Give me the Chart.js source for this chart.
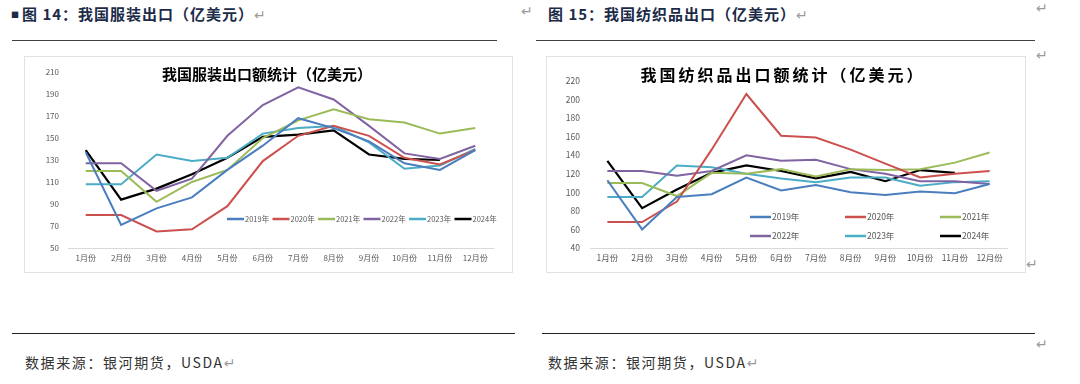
<!DOCTYPE html>
<html>
<head>
<meta charset="utf-8">
<script src="https://cdn.jsdelivr.net/npm/chart.js@4/dist/chart.umd.min.js"></script>
<style>
  body { margin: 0; background: #fff; }
  #page { position: relative; width: 1080px; height: 384px; overflow: hidden; font-family: "Noto Sans CJK SC", sans-serif; }
  .abs { position: absolute; white-space: nowrap; }
  .head { font-size: 15px; font-weight: bold; color: #1c2b48; letter-spacing: 1px; }
  .foot { font-size: 14px; color: #333; letter-spacing: 1.6px; }
  .mark { color: #9a9a9a; font-family: "DejaVu Sans", sans-serif; font-size: 14px; font-weight: normal; letter-spacing: 0; }
  .rule { position: absolute; height: 1px; background: #404040; }
  .box { position: absolute; border: 1px solid #e2e2e2; }
  .title { position: absolute; white-space: nowrap; font-weight: bold; color: #000; transform: translateX(-50%); }
</style>
</head>
<body>
<div id="page">
  <div class="abs head" style="left:11px;top:3px;"><span style="font-size:8px;vertical-align:2px;margin-right:2px;">■</span>图 14：我国服装出口（亿美元）<span class="mark">↵</span></div>
  <div class="abs mark" style="left:521px;top:3px;">↵</div>
  <div class="abs head" style="left:548px;top:3px;">图 15：我国纺织品出口（亿美元）<span class="mark">↵</span></div>
  <div class="abs mark" style="left:1036px;top:0px;">↵</div>
  <div class="abs mark" style="left:1036px;top:47px;">↵</div>
  <div class="abs mark" style="left:1026px;top:256px;">↵</div>
  <div class="abs mark" style="left:1036px;top:336px;">↵</div>

  <div class="rule" style="left:12px;top:40px;width:485px;"></div>
  <div class="rule" style="left:536px;top:40px;width:499px;"></div>

  <div class="box" style="left:24px;top:56px;width:487px;height:215px;"><canvas id="c1" width="487" height="215"></canvas></div>
  <div class="box" style="left:546px;top:56px;width:478px;height:215px;"><canvas id="c2" width="478" height="215"></canvas></div>
  <div class="title" style="left:267px;top:63px;font-size:15px;">我国服装出口额统计（亿美元）</div>
  <div class="title" style="left:783px;top:62px;font-size:16px;letter-spacing:3px;">我国纺织品出口额统计（亿美元）</div>

  <div class="rule" style="left:12px;top:333px;width:503px;background:#222;"></div>
  <div class="rule" style="left:542px;top:333px;width:493px;background:#222;"></div>
  <div class="abs foot" style="left:25px;top:352px;">数据来源：银河期货，USDA<span class="mark">↵</span></div>
  <div class="abs foot" style="left:548px;top:352px;">数据来源：银河期货，USDA<span class="mark">↵</span></div>
</div>
<script>
const months = ['1月份','2月份','3月份','4月份','5月份','6月份','7月份','8月份','9月份','10月份','11月份','12月份'];
const years = ['2019年','2020年','2021年','2022年','2023年','2024年'];
const colors = ['#4a7ebf','#cc504d','#9bbb59','#8064a2','#4bacc6','#000000'];

// 服装出口
const apparel2019 = [137, 71, 86, 96, 121, 143, 168, 159, 147, 127, 121, 139];
const apparel2020 = [80, 80, 65, 67, 88, 129, 152, 161, 152, 132, 126, 139];
const apparel2021 = [120, 120, 92, 110, 121, 150, 166, 176, 167, 164, 154, 159];
const apparel2022 = [127, 127, 102, 113, 152, 180, 196, 185, 161, 136, 131, 143];
const apparel2023 = [108, 108, 135, 129, 132, 154, 159, 161, 146, 122, 125, 140];
const apparel2024 = [139, 94, 104, 117, 132, 151, 153, 157, 135, 131, 130];

// 纺织品出口
const textile2019 = [113, 60, 95, 98, 116, 102, 108, 100, 97, 101, 99, 109];
const textile2020 = [68, 68, 90, 146, 206, 161, 159, 146, 131, 116, 120, 123];
const textile2021 = [110, 110, 96, 121, 120, 125, 117, 125, 124, 125, 132, 143];
const textile2022 = [123, 123, 118, 123, 140, 134, 135, 125, 120, 112, 112, 109];
const textile2023 = [95, 95, 129, 127, 120, 115, 111, 116, 116, 107, 111, 112];
const textile2024 = [134, 83, 103, 121, 129, 123, 115, 122, 112, 124, 121];

const apparelTicks = { min: 50, max: 210, step: 20 };
const textileTicks = { min: 40, max: 220, step: 20 };

// legend drawn inside the plot area
const legendInside = {
  id: 'legendInside',
  afterDatasetsDraw(chart, args, opts) {
    const ctx = chart.ctx;
    const area = chart.chartArea;
    ctx.save();
    ctx.font = opts.font;
    ctx.textBaseline = 'middle';
    ctx.textAlign = 'left';
    chart.data.datasets.forEach((ds, i) => {
      const col = i % opts.cols, row = Math.floor(i / opts.cols);
      const x = area.left + opts.x + col * opts.dx;
      const y = area.top + opts.y + row * opts.dy;
      ctx.strokeStyle = ds.borderColor;
      ctx.lineWidth = 2.5;
      ctx.beginPath();
      ctx.moveTo(x, y);
      ctx.lineTo(x + opts.len, y);
      ctx.stroke();
      ctx.fillStyle = opts.color;
      ctx.fillText(ds.label, x + opts.len + 1, y);
    });
    ctx.restore();
  }
};

function makeDatasets(series) {
  return series.map((data, i) => ({
    label: years[i],
    data: data,
    borderColor: colors[i],
    backgroundColor: colors[i],
    borderWidth: i === 5 ? 2.2 : 2,
    pointRadius: 0,
    tension: 0,
    fill: false
  }));
}

function makeChart(id, series, range, cfg) {
  new Chart(document.getElementById(id), {
    type: 'line',
    data: { labels: months, datasets: makeDatasets(series) },
    plugins: [legendInside],
    options: {
      responsive: false,
      animation: false,
      layout: { padding: cfg.padding },
      plugins: {
        legend: { display: false },
        tooltip: { enabled: false },
        legendInside: cfg.legend
      },
      scales: {
        x: {
          offset: true,
          grid: { display: false, drawTicks: false },
          border: { display: true, color: '#d9d9d9', width: 1 },
          ticks: { color: '#595959', font: { size: cfg.fontSize, family: 'Noto Sans CJK SC' }, padding: 5, maxRotation: 0, autoSkip: false },
          afterFit(s) { s.height = 20; }
        },
        y: {
          min: range.min,
          max: range.max,
          grid: { display: false, drawTicks: false },
          border: { display: false },
          ticks: { stepSize: range.step, color: '#595959', font: { size: cfg.fontSize, family: 'Noto Sans CJK SC' }, padding: cfg.yPad },
          afterFit(s) { s.width = 43; }
        }
      }
    }
  });
}

makeChart('c1', [apparel2019, apparel2020, apparel2021, apparel2022, apparel2023, apparel2024], apparelTicks, {
  padding: { left: 0, right: 19, top: 15, bottom: 4 },
  fontSize: 8,
  yPad: 9,
  legend: { x: 159, y: 147, dx: 45.5, dy: 0, cols: 6, len: 17, font: '7.5px "Noto Sans CJK SC"', color: '#595959' }
});

makeChart('c2', [textile2019, textile2020, textile2021, textile2022, textile2023, textile2024], textileTicks, {
  padding: { left: 0, right: 18, top: 24, bottom: 4 },
  fontSize: 8.5,
  yPad: 10,
  legend: { x: 160, y: 136, dx: 95, dy: 19, cols: 3, len: 21, font: '8.5px "Noto Sans CJK SC"', color: '#595959' }
});
</script>
</body>
</html>
